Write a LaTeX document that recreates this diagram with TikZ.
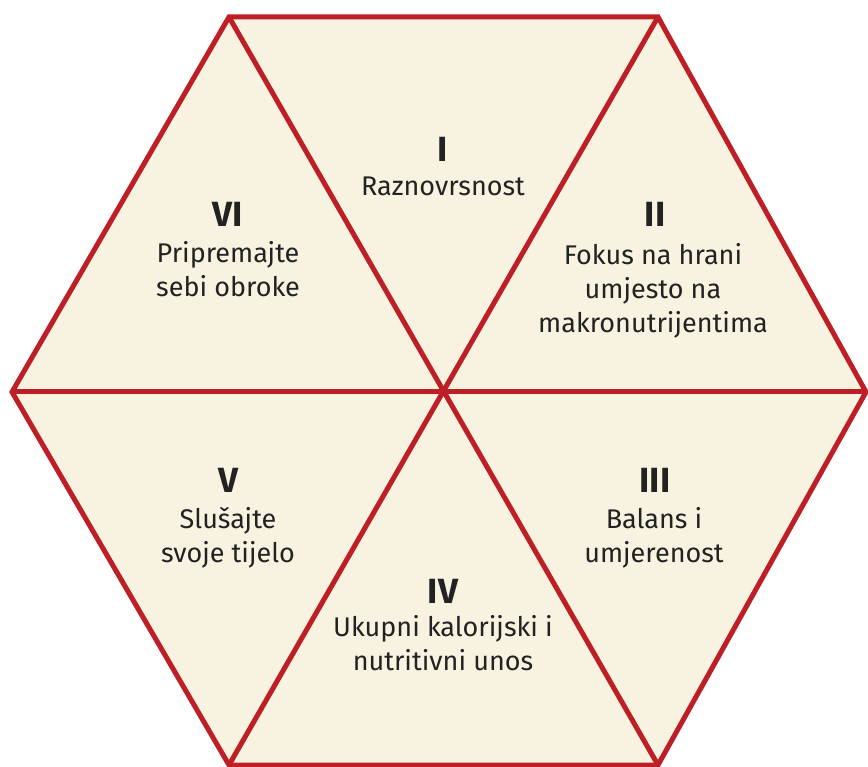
\documentclass[tikz,border=0pt]{standalone}
\usepackage{fontspec}
\setmainfont{Fira Sans}
\usetikzlibrary{calc}
\definecolor{hexred}{HTML}{BE1E26}
\definecolor{hexfill}{HTML}{F7F3E0}
\definecolor{txtgray}{HTML}{222222}
\tikzset{
  edge/.style={line width=5pt, color=hexred},
  num/.style={font=\fontsize{35}{35}\selectfont\bfseries, text=txtgray, inner sep=0pt, anchor=base},
  % base = baseline of the last line
  txt/.style={font=\fontsize{27}{34}\selectfont, text=txtgray, align=center, inner sep=0pt, anchor=base},
}

\begin{document}
\begin{tikzpicture}[x=1pt,y=-1pt]
			%%%%% START %%%%%
			\useasboundingbox (0,0) rectangle (868,767);
			
			\coordinate (tl) at (229,17);
			\coordinate (tr) at (658,17);
			\coordinate (r) at (866,392);
			\coordinate (br) at (658,765);
			\coordinate (bl) at (229,765);
			\coordinate (l) at (12,392);
			\coordinate (ctr) at (443.5,391);
			
			\fill[hexfill] (tl) -- (tr) -- (r) -- (br) -- (bl) -- (l) -- cycle;
			
			\draw[edge] (l) -- (r);
			\draw[edge] (tl) -- (br);
			\draw[edge] (tr) -- (bl);
			\draw[edge, line join=miter] (tl) -- (tr) -- (r) -- (br) -- (bl) -- (l) -- cycle;
			
			\node[num] (n1) at (443,162) {I};
			\node[txt] (t1) at (443,196) {Raznovrsnost};
			
			\node[num] (n2) at (655,227) {II};
			\node[txt] (t2) at (653,333) {Fokus na hrani\\umjesto na\\makronutrijentima};
			
			\node[num] (n3) at (655,492) {III};
			\node[txt] (t3) at (654,562) {Balans i\\umjerenost};
			
			\node[num] (n4) at (443,603) {IV};
			\node[txt] (t4) at (443,670) {Ukupni kalorijski i\\nutritivni unos};
			
			\node[num] (n5) at (228,492) {V};
			\node[txt] (t5) at (228,562) {Slušajte\\svoje tijelo};
			
			\node[num] (n6) at (228,227) {VI};
			\node[txt] (t6) at (228,297) {Pripremajte\\sebi obroke};
			
			%%%%% END %%%%%
\end{tikzpicture}
\end{document}
